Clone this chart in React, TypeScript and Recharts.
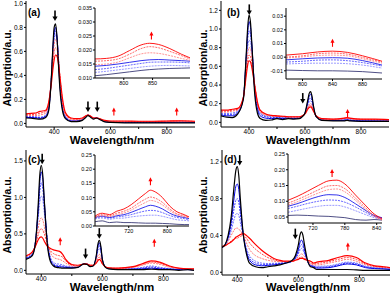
import React from "react";
import { LineChart, Line, XAxis, YAxis, ReferenceDot } from "recharts";

// ---------- panel (a) ----------
const aWl = [300, 330, 350, 370, 380, 390, 395, 400, 405, 410, 415, 420, 430, 440, 460, 480, 500, 510, 520, 530, 540, 550, 560, 580, 600, 650, 700, 750, 800, 850, 900];
const aBlack = [0.045, 0.04, 0.035, 0.05, 0.1, 0.38, 0.62, 0.8, 0.83, 0.72, 0.5, 0.3, 0.1, 0.04, 0.015, 0.015, 0.025, 0.045, 0.065, 0.05, 0.035, 0.045, 0.035, 0.012, 0.008, 0.005, 0.005, 0.005, 0.005, 0.005, 0.005];
const aBlue1 = [0.05, 0.048, 0.042, 0.058, 0.11, 0.38, 0.6, 0.76, 0.8, 0.72, 0.53, 0.33, 0.12, 0.05, 0.02, 0.02, 0.03, 0.05, 0.068, 0.055, 0.04, 0.046, 0.037, 0.015, 0.01, 0.008, 0.008, 0.008, 0.009, 0.01, 0.008];
const aBlue2 = [0.055, 0.052, 0.048, 0.062, 0.12, 0.38, 0.58, 0.73, 0.77, 0.71, 0.55, 0.35, 0.13, 0.055, 0.022, 0.022, 0.032, 0.052, 0.069, 0.056, 0.042, 0.046, 0.038, 0.016, 0.011, 0.009, 0.009, 0.009, 0.01, 0.011, 0.009];
const aBlue3 = [0.06, 0.056, 0.052, 0.068, 0.13, 0.38, 0.56, 0.7, 0.74, 0.7, 0.56, 0.37, 0.14, 0.06, 0.025, 0.024, 0.034, 0.054, 0.07, 0.057, 0.043, 0.046, 0.039, 0.017, 0.012, 0.01, 0.01, 0.01, 0.011, 0.012, 0.01];
const aRed1 = [0.065, 0.065, 0.07, 0.085, 0.15, 0.38, 0.54, 0.66, 0.7, 0.67, 0.55, 0.39, 0.16, 0.07, 0.03, 0.028, 0.037, 0.056, 0.07, 0.058, 0.044, 0.046, 0.039, 0.02, 0.015, 0.014, 0.013, 0.013, 0.015, 0.017, 0.014];
const aRed2 = [0.072, 0.075, 0.085, 0.1, 0.16, 0.36, 0.49, 0.6, 0.63, 0.62, 0.53, 0.4, 0.18, 0.08, 0.038, 0.034, 0.041, 0.058, 0.07, 0.059, 0.045, 0.046, 0.04, 0.022, 0.018, 0.017, 0.016, 0.016, 0.018, 0.02, 0.016];
const aRed3 = [0.08, 0.085, 0.1, 0.11, 0.17, 0.33, 0.44, 0.53, 0.57, 0.56, 0.5, 0.4, 0.2, 0.09, 0.045, 0.04, 0.045, 0.06, 0.07, 0.06, 0.045, 0.045, 0.04, 0.025, 0.02, 0.02, 0.018, 0.018, 0.02, 0.022, 0.018];
const aDown = [{ x: 403, y: 0.9 }, { x: 520, y: 0.14 }, { x: 553, y: 0.14 }];
const aUp = [{ x: 612, y: 0.1 }, { x: 835, y: 0.1 }];

const aInWl = [750, 770, 790, 810, 830, 845, 860, 880, 900, 915];
const aInRed1 = [0.0168, 0.017, 0.0178, 0.0198, 0.0218, 0.0224, 0.022, 0.0205, 0.0185, 0.0172];
const aInRed2 = [0.016, 0.0162, 0.0168, 0.0185, 0.0205, 0.0212, 0.0208, 0.0195, 0.018, 0.0168];
const aInRed3 = [0.0148, 0.015, 0.0157, 0.0172, 0.0186, 0.019, 0.0188, 0.018, 0.017, 0.0163];
const aInBlue1 = [0.0142, 0.0145, 0.015, 0.0156, 0.0162, 0.0165, 0.0166, 0.0164, 0.0162, 0.016];
const aInBlue2 = [0.013, 0.0134, 0.014, 0.0146, 0.0152, 0.0156, 0.0157, 0.0157, 0.0156, 0.0154];
const aInBlue3 = [0.012, 0.0124, 0.0129, 0.0134, 0.0139, 0.0142, 0.0144, 0.0145, 0.0144, 0.0143];
const aInBlack = [0.0108, 0.0112, 0.0117, 0.0122, 0.0127, 0.013, 0.0132, 0.0134, 0.0135, 0.0136];
const aInUp = [{ x: 848, y: 0.0252 }];

// ---------- panel (b) ----------
const bWl = [300, 320, 340, 360, 380, 390, 395, 400, 405, 410, 420, 430, 440, 460, 480, 500, 520, 540, 560, 580, 590, 600, 610, 615, 620, 625, 630, 640, 660, 700, 740, 750, 760, 800, 850, 900];
const bBlack = [0.07, 0.055, 0.05, 0.09, 0.25, 0.72, 1.0, 1.15, 1.08, 0.85, 0.32, 0.1, 0.04, 0.02, 0.025, 0.04, 0.03, 0.04, 0.035, 0.04, 0.06, 0.1, 0.24, 0.31, 0.33, 0.28, 0.18, 0.06, 0.02, 0.015, 0.015, 0.02, 0.015, 0.01, 0.01, 0.01];
const bBlue1 = [0.08, 0.07, 0.07, 0.1, 0.26, 0.7, 0.95, 1.08, 1.03, 0.84, 0.36, 0.14, 0.07, 0.045, 0.04, 0.045, 0.04, 0.045, 0.04, 0.045, 0.06, 0.1, 0.22, 0.28, 0.3, 0.26, 0.17, 0.06, 0.025, 0.02, 0.02, 0.025, 0.02, 0.015, 0.015, 0.015];
const bBlue2 = [0.09, 0.085, 0.085, 0.11, 0.27, 0.67, 0.88, 0.98, 0.95, 0.8, 0.38, 0.16, 0.09, 0.06, 0.052, 0.052, 0.048, 0.05, 0.045, 0.048, 0.062, 0.1, 0.2, 0.25, 0.26, 0.23, 0.16, 0.065, 0.028, 0.022, 0.025, 0.03, 0.025, 0.018, 0.018, 0.018];
const bBlue3 = [0.1, 0.095, 0.1, 0.12, 0.27, 0.63, 0.8, 0.88, 0.86, 0.75, 0.4, 0.18, 0.1, 0.07, 0.06, 0.058, 0.054, 0.053, 0.05, 0.052, 0.064, 0.098, 0.18, 0.22, 0.23, 0.21, 0.15, 0.066, 0.03, 0.025, 0.03, 0.035, 0.03, 0.022, 0.02, 0.02];
const bRed1 = [0.11, 0.11, 0.12, 0.13, 0.27, 0.59, 0.73, 0.8, 0.79, 0.7, 0.41, 0.2, 0.11, 0.078, 0.068, 0.064, 0.06, 0.057, 0.055, 0.056, 0.066, 0.095, 0.16, 0.19, 0.2, 0.18, 0.14, 0.068, 0.035, 0.03, 0.038, 0.042, 0.038, 0.028, 0.026, 0.024];
const bRed2 = [0.12, 0.12, 0.13, 0.14, 0.27, 0.54, 0.66, 0.72, 0.71, 0.64, 0.41, 0.21, 0.12, 0.085, 0.072, 0.067, 0.063, 0.059, 0.058, 0.058, 0.068, 0.092, 0.15, 0.175, 0.18, 0.165, 0.13, 0.07, 0.038, 0.033, 0.042, 0.047, 0.042, 0.032, 0.03, 0.027];
const bRed3 = [0.13, 0.13, 0.14, 0.15, 0.27, 0.5, 0.61, 0.66, 0.65, 0.59, 0.4, 0.22, 0.13, 0.09, 0.075, 0.07, 0.065, 0.06, 0.06, 0.06, 0.07, 0.09, 0.14, 0.16, 0.165, 0.15, 0.12, 0.07, 0.04, 0.035, 0.045, 0.05, 0.045, 0.035, 0.035, 0.03];
const bDown = [{ x: 401, y: 1.21 }, { x: 592, y: 0.26 }];
const bUp = [{ x: 752, y: 0.1 }];

const bInWl = [778, 800, 820, 840, 860, 880, 906];
const bInRed1 = [0.0015, 0.0025, 0.0038, 0.0044, 0.0035, 0.001, -0.003];
const bInRed2 = [0.0, 0.001, 0.0025, 0.003, 0.0022, -0.0002, -0.0036];
const bInRed3 = [-0.0007, 0.0002, 0.0012, 0.0015, 0.001, -0.0012, -0.0044];
const bInBlue1 = [-0.002, -0.0012, -0.0006, -0.0004, -0.0008, -0.0025, -0.0058];
const bInBlue2 = [-0.0036, -0.003, -0.0022, -0.002, -0.0026, -0.004, -0.0065];
const bInBlue3 = [-0.005, -0.0046, -0.0044, -0.0044, -0.0048, -0.0058, -0.008];
const bInBlack = [-0.0095, -0.0098, -0.01, -0.01, -0.0102, -0.0106, -0.0116];
const bInUp = [{ x: 840, y: 0.0105 }];

// ---------- panel (c) ----------
const cWl = [350, 370, 380, 390, 395, 400, 405, 410, 420, 430, 440, 450, 460, 470, 480, 500, 520, 540, 550, 560, 570, 580, 585, 590, 595, 600, 610, 620, 650, 700, 730, 760, 790, 820, 850, 880, 900];
const cBlack = [0.15, 0.2, 0.35, 0.9, 1.3, 1.44, 1.3, 0.95, 0.35, 0.12, 0.06, 0.04, 0.035, 0.03, 0.03, 0.03, 0.04, 0.09, 0.08, 0.05, 0.06, 0.2, 0.35, 0.41, 0.33, 0.15, 0.04, 0.02, 0.01, 0.01, 0.01, 0.015, 0.01, 0.01, 0.0, 0.01, 0.0];
const cBlue1 = [0.16, 0.21, 0.36, 0.85, 1.2, 1.35, 1.25, 0.95, 0.38, 0.14, 0.075, 0.055, 0.05, 0.045, 0.04, 0.035, 0.042, 0.09, 0.085, 0.055, 0.062, 0.19, 0.32, 0.38, 0.31, 0.15, 0.045, 0.025, 0.015, 0.015, 0.02, 0.03, 0.02, 0.015, 0.01, 0.01, 0.005];
const cBlue2 = [0.17, 0.22, 0.36, 0.8, 1.08, 1.2, 1.12, 0.88, 0.4, 0.16, 0.09, 0.07, 0.065, 0.058, 0.05, 0.042, 0.045, 0.09, 0.088, 0.06, 0.064, 0.18, 0.3, 0.34, 0.28, 0.14, 0.048, 0.028, 0.018, 0.02, 0.03, 0.045, 0.03, 0.02, 0.012, 0.012, 0.008];
const cBlue3 = [0.18, 0.23, 0.36, 0.72, 0.93, 1.02, 0.97, 0.79, 0.4, 0.18, 0.11, 0.09, 0.085, 0.075, 0.06, 0.048, 0.048, 0.09, 0.09, 0.065, 0.066, 0.16, 0.26, 0.3, 0.25, 0.13, 0.05, 0.03, 0.02, 0.025, 0.04, 0.06, 0.04, 0.025, 0.015, 0.015, 0.01];
const cRed1 = [0.19, 0.24, 0.34, 0.58, 0.68, 0.72, 0.69, 0.6, 0.38, 0.24, 0.18, 0.16, 0.15, 0.13, 0.1, 0.06, 0.055, 0.088, 0.088, 0.068, 0.068, 0.13, 0.2, 0.22, 0.19, 0.11, 0.05, 0.032, 0.025, 0.04, 0.07, 0.1, 0.08, 0.045, 0.025, 0.018, 0.015];
const cRed2 = [0.2, 0.25, 0.33, 0.49, 0.55, 0.57, 0.55, 0.5, 0.36, 0.27, 0.23, 0.21, 0.2, 0.18, 0.13, 0.07, 0.062, 0.087, 0.087, 0.07, 0.07, 0.11, 0.16, 0.18, 0.16, 0.1, 0.05, 0.034, 0.028, 0.045, 0.08, 0.115, 0.095, 0.052, 0.028, 0.02, 0.018];
const cRed3 = [0.2, 0.25, 0.32, 0.42, 0.45, 0.46, 0.44, 0.4, 0.33, 0.3, 0.28, 0.27, 0.26, 0.22, 0.15, 0.08, 0.07, 0.085, 0.085, 0.07, 0.07, 0.1, 0.13, 0.15, 0.13, 0.09, 0.05, 0.035, 0.03, 0.05, 0.09, 0.13, 0.11, 0.06, 0.03, 0.02, 0.02];
const cDown = [{ x: 403, y: 1.53 }, { x: 545, y: 0.23 }, { x: 590, y: 0.51 }];
const cUp = [{ x: 462, y: 0.4 }, { x: 770, y: 0.38 }];

const cInWl = [650, 665, 680, 695, 710, 725, 740, 755, 765, 775, 790, 805, 820, 835, 845];
const cInRed1 = [0.035, 0.045, 0.04, 0.052, 0.06, 0.075, 0.095, 0.115, 0.126, 0.12, 0.1, 0.07, 0.05, 0.04, 0.032];
const cInRed2 = [0.032, 0.04, 0.036, 0.045, 0.052, 0.063, 0.08, 0.095, 0.102, 0.098, 0.083, 0.06, 0.043, 0.036, 0.03];
const cInRed3 = [0.03, 0.036, 0.033, 0.04, 0.046, 0.056, 0.07, 0.083, 0.09, 0.087, 0.074, 0.054, 0.04, 0.033, 0.028];
const cInBlue1 = [0.03, 0.035, 0.03, 0.036, 0.04, 0.048, 0.058, 0.068, 0.073, 0.07, 0.06, 0.045, 0.035, 0.03, 0.026];
const cInBlue2 = [0.028, 0.032, 0.028, 0.032, 0.035, 0.04, 0.047, 0.053, 0.055, 0.054, 0.047, 0.037, 0.03, 0.026, 0.022];
const cInBlue3 = [0.025, 0.028, 0.024, 0.027, 0.028, 0.032, 0.035, 0.037, 0.038, 0.038, 0.034, 0.028, 0.022, 0.02, 0.018];
const cInBlack = [0.015, 0.018, 0.012, 0.014, 0.012, 0.012, 0.011, 0.01, 0.01, 0.01, 0.009, 0.008, 0.006, 0.005, 0.005];
const cInUp = [{ x: 765, y: 0.158 }];

// ---------- panel (d) ----------
const dWl = [350, 360, 370, 380, 390, 395, 400, 405, 410, 420, 430, 440, 460, 480, 500, 520, 540, 560, 580, 590, 600, 605, 610, 615, 620, 630, 640, 650, 660, 700, 730, 760, 790, 820, 850, 880, 900];
const dBlack = [0.27, 0.3, 0.4, 0.6, 0.95, 1.1, 1.15, 1.05, 0.8, 0.4, 0.2, 0.1, 0.06, 0.05, 0.06, 0.07, 0.08, 0.1, 0.13, 0.18, 0.3, 0.4, 0.44, 0.4, 0.3, 0.13, 0.06, 0.05, 0.03, 0.03, 0.03, 0.03, 0.025, 0.02, 0.02, 0.02, 0.02];
const dBlue1 = [0.27, 0.3, 0.38, 0.55, 0.82, 0.93, 0.96, 0.9, 0.72, 0.4, 0.22, 0.13, 0.08, 0.07, 0.075, 0.08, 0.09, 0.1, 0.12, 0.16, 0.25, 0.32, 0.35, 0.32, 0.25, 0.12, 0.07, 0.06, 0.045, 0.05, 0.07, 0.09, 0.08, 0.05, 0.04, 0.035, 0.03];
const dBlue2 = [0.27, 0.3, 0.37, 0.5, 0.7, 0.78, 0.8, 0.76, 0.63, 0.4, 0.24, 0.15, 0.1, 0.085, 0.085, 0.09, 0.095, 0.105, 0.12, 0.15, 0.22, 0.28, 0.3, 0.28, 0.22, 0.12, 0.075, 0.065, 0.055, 0.06, 0.08, 0.1, 0.09, 0.06, 0.045, 0.04, 0.035];
const dBlue3 = [0.27, 0.29, 0.35, 0.45, 0.58, 0.63, 0.64, 0.62, 0.54, 0.39, 0.26, 0.18, 0.12, 0.1, 0.095, 0.098, 0.1, 0.108, 0.12, 0.145, 0.2, 0.24, 0.26, 0.24, 0.2, 0.12, 0.08, 0.07, 0.065, 0.07, 0.09, 0.11, 0.1, 0.065, 0.05, 0.045, 0.04];
const dRed1 = [0.28, 0.3, 0.34, 0.4, 0.46, 0.48, 0.48, 0.47, 0.45, 0.4, 0.32, 0.25, 0.18, 0.15, 0.13, 0.12, 0.115, 0.115, 0.12, 0.135, 0.17, 0.19, 0.2, 0.19, 0.17, 0.12, 0.09, 0.08, 0.08, 0.1, 0.12, 0.14, 0.12, 0.08, 0.06, 0.05, 0.045];
const dRed2 = [0.28, 0.29, 0.31, 0.34, 0.36, 0.37, 0.37, 0.38, 0.39, 0.4, 0.37, 0.32, 0.25, 0.2, 0.16, 0.135, 0.12, 0.115, 0.118, 0.13, 0.15, 0.16, 0.165, 0.16, 0.15, 0.125, 0.1, 0.09, 0.095, 0.115, 0.14, 0.16, 0.14, 0.09, 0.065, 0.055, 0.05];
const dRed3 = [0.28, 0.29, 0.31, 0.33, 0.36, 0.38, 0.39, 0.4, 0.41, 0.42, 0.4, 0.37, 0.3, 0.24, 0.19, 0.15, 0.13, 0.12, 0.12, 0.13, 0.14, 0.15, 0.15, 0.15, 0.14, 0.13, 0.12, 0.1, 0.11, 0.13, 0.16, 0.18, 0.16, 0.1, 0.07, 0.06, 0.05];
const dDown = [{ x: 408, y: 1.22 }, { x: 590, y: 0.42 }];
const dUp = [{ x: 762, y: 0.28 }];

const dInWl = [673, 690, 710, 730, 750, 765, 780, 800, 820, 835, 850];
const dInRed1 = [0.103, 0.115, 0.132, 0.15, 0.165, 0.167, 0.155, 0.12, 0.085, 0.06, 0.045];
const dInRed2 = [0.094, 0.105, 0.12, 0.136, 0.149, 0.15, 0.14, 0.11, 0.078, 0.055, 0.042];
const dInRed3 = [0.088, 0.098, 0.112, 0.126, 0.137, 0.139, 0.13, 0.103, 0.073, 0.052, 0.04];
const dInBlue1 = [0.084, 0.092, 0.104, 0.115, 0.121, 0.12, 0.112, 0.092, 0.07, 0.055, 0.048];
const dInBlue2 = [0.077, 0.084, 0.093, 0.1, 0.104, 0.103, 0.097, 0.082, 0.064, 0.052, 0.045];
const dInBlue3 = [0.065, 0.071, 0.078, 0.084, 0.087, 0.087, 0.082, 0.07, 0.057, 0.048, 0.042];
const dInBlack = [0.055, 0.056, 0.055, 0.053, 0.052, 0.05, 0.048, 0.042, 0.04, 0.042, 0.04];
const dInUp = [{ x: 756, y: 0.19 }];

const FONT = "'Liberation Sans', Arial, sans-serif";

type Mark = { x: number; y: number };
type Curve = { values: number[]; color: string; dash?: string; w?: number };

// blues drawn first, reds next, black on top
function mainCurves(black: number[], blues: number[][], reds: number[][]): Curve[] {
  return [
    { values: blues[2], color: "#7474ff", dash: "2 1" },
    { values: blues[1], color: "#3c3cff", dash: "2 1" },
    { values: blues[0], color: "#0000e6" },
    { values: reds[0], color: "#ff7a7a", dash: "2 1" },
    { values: reds[1], color: "#ff4545", dash: "2 1" },
    { values: reds[2], color: "#ff0000", w: 1.2 },
    { values: black, color: "#000000", w: 1.2 },
  ];
}

function insetCurves(black: number[], blues: number[][], reds: number[][]): Curve[] {
  return [
    { values: black, color: "#222266", w: 0.8 },
    { values: blues[2], color: "#8080ff", dash: "2 1", w: 0.8 },
    { values: blues[1], color: "#4040ff", dash: "2 1", w: 0.8 },
    { values: blues[0], color: "#0000e6", w: 0.8 },
    { values: reds[2], color: "#ff7a7a", dash: "2 1", w: 0.8 },
    { values: reds[1], color: "#ff4545", dash: "2 1", w: 0.8 },
    { values: reds[0], color: "#ff0000", w: 0.9 },
  ];
}

function toRows(wl: number[], curves: Curve[]) {
  return wl.map((w, i) => {
    const row: Record<string, number> = { wl: w };
    curves.forEach((c, k) => {
      row["c" + k] = c.values[i];
    });
    return row;
  });
}

const DownArrow = (props: any) => {
  const { cx, cy } = props;
  return (
    <g>
      <line x1={cx} y1={cy - 5} x2={cx} y2={cy + 2} stroke="#000" strokeWidth={1.6} />
      <path d={`M${cx - 2.6},${cy + 1} L${cx + 2.6},${cy + 1} L${cx},${cy + 5.5} Z`} fill="#000" />
    </g>
  );
};

const UpArrow = (props: any) => {
  const { cx, cy } = props;
  return (
    <g>
      <line x1={cx} y1={cy + 4} x2={cx} y2={cy - 1} stroke="#ff0000" strokeWidth={1.1} />
      <path d={`M${cx - 2},${cy} L${cx + 2},${cy} L${cx},${cy - 4} Z`} fill="#ff0000" />
    </g>
  );
};

interface ChartProps {
  w: number;
  h: number;
  margin: { top: number; right: number; bottom: number; left: number };
  yWidth: number;
  xHeight: number;
  wl: number[];
  curves: Curve[];
  xDomain: [number, number];
  yDomain: [number, number];
  xTicks: number[];
  xFmt: (v: number) => string;
  yTicks: number[];
  yFmt: (v: number) => string;
  fontSize: number;
  xMargin: number;
  downs: Mark[];
  ups: Mark[];
}

function Chart(p: ChartProps) {
  const rows = toRows(p.wl, p.curves);
  const tickStyle = { fontSize: p.fontSize, fill: "#000", fontFamily: FONT };
  return (
    <LineChart width={p.w} height={p.h} data={rows} margin={p.margin}>
      <XAxis
        dataKey="wl"
        type="number"
        domain={p.xDomain}
        allowDataOverflow
        ticks={p.xTicks}
        interval={0}
        tickFormatter={p.xFmt}
        height={p.xHeight}
        stroke="#000"
        tickSize={2}
        tickMargin={p.xMargin}
        tick={tickStyle}
      />
      <XAxis xAxisId="top" orientation="top" dataKey="wl" type="number" domain={p.xDomain} allowDataOverflow height={0} tick={false} tickLine={false} stroke="#000" />
      <YAxis
        type="number"
        domain={p.yDomain}
        allowDataOverflow
        ticks={p.yTicks}
        interval={0}
        tickFormatter={p.yFmt}
        width={p.yWidth}
        stroke="#000"
        tickSize={2}
        tickMargin={1}
        tick={tickStyle}
      />
      <YAxis yAxisId="right" orientation="right" type="number" domain={p.yDomain} allowDataOverflow width={0} tick={false} tickLine={false} stroke="#000" />
      {p.curves.map((c, k) => (
        <Line
          key={k}
          type="monotone"
          dataKey={"c" + k}
          stroke={c.color}
          strokeWidth={c.w ?? 1}
          strokeDasharray={c.dash}
          dot={false}
          isAnimationActive={false}
        />
      ))}
      {p.downs.map((m, i) => (
        <ReferenceDot key={"d" + i} x={m.x} y={m.y} shape={DownArrow} />
      ))}
      {p.ups.map((m, i) => (
        <ReferenceDot key={"u" + i} x={m.x} y={m.y} shape={UpArrow} />
      ))}
    </LineChart>
  );
}

const mainX = [400, 500, 600, 700, 800];
const mainXFmt = (v: number) => (v % 200 === 0 ? String(v) : "");
const fix = (n: number) => (v: number) => v.toFixed(n);

interface PanelProps {
  left: number;
  top: number;
  tag: string;
  tagLeft: number;
  main: Omit<ChartProps, "w" | "h" | "fontSize" | "xTicks" | "xFmt" | "xMargin">;
  inset: Omit<ChartProps, "fontSize" | "xFmt" | "downs" | "margin" | "xMargin"> & { left: number; top: number };
}

function Panel({ left, top, tag, tagLeft, main, inset }: PanelProps) {
  return (
    <div style={{ position: "absolute", left, top, width: 196, height: 147 }}>
      <Chart {...main} w={196} h={147} fontSize={6.5} xTicks={mainX} xFmt={mainXFmt} xMargin={0} />
      <div style={{ position: "absolute", left: inset.left, top: inset.top }}>
        <Chart
          {...inset}
          margin={{ top: 5, right: 1, bottom: 0, left: 0 }}
          fontSize={5.5}
          xFmt={(v: number) => String(v)}
          xMargin={1}
          downs={[]}
        />
      </div>
      <div style={{ position: "absolute", left: tagLeft, top: 8, fontSize: 10, fontWeight: "bold", lineHeight: 1 }}>{tag}</div>
      <div
        style={{
          position: "absolute",
          left: 112,
          top: 141,
          transform: "translate(-50%, -50%)",
          fontSize: 11.5,
          fontWeight: "bold",
          whiteSpace: "nowrap",
          lineHeight: 1,
        }}
      >
        Wavelength/nm
      </div>
      <div
        style={{
          position: "absolute",
          left: 7,
          top: 68,
          transform: "translate(-50%, -50%) rotate(-90deg)",
          fontSize: 10.5,
          fontWeight: "bold",
          whiteSpace: "nowrap",
          lineHeight: 1,
        }}
      >
        Absorption/a.u.
      </div>
    </div>
  );
}

export default function App() {
  return (
    <div style={{ position: "absolute", left: 0, top: 0, width: 392, height: 294, background: "#fff", fontFamily: FONT, overflow: "hidden" }}>
      <Panel
        left={0}
        top={0}
        tag="(a)"
        tagLeft={28}
        main={{
          margin: { top: 1, right: 1, bottom: 0, left: 0 },
          yWidth: 26,
          xHeight: 20,
          wl: aWl,
          curves: mainCurves(aBlack, [aBlue1, aBlue2, aBlue3], [aRed1, aRed2, aRed3]),
          xDomain: [300, 900],
          yDomain: [-0.03, 1.02],
          yTicks: [0, 0.2, 0.4, 0.6, 0.8, 1.0],
          yFmt: fix(1),
          downs: aDown,
          ups: aUp,
        }}
        inset={{
          left: 77,
          top: 3,
          w: 114,
          h: 85,
          yWidth: 18,
          xHeight: 10,
          wl: aInWl,
          curves: insetCurves(aInBlack, [aInBlue1, aInBlue2, aInBlue3], [aInRed1, aInRed2, aInRed3]),
          xDomain: [750, 915],
          yDomain: [0.01, 0.035],
          xTicks: [800, 850],
          yTicks: [0.01, 0.015, 0.02, 0.025, 0.03, 0.035],
          yFmt: fix(3),
          ups: aInUp,
        }}
      />
      <Panel
        left={196}
        top={0}
        tag="(b)"
        tagLeft={31}
        main={{
          margin: { top: 1, right: 3, bottom: 0, left: 0 },
          yWidth: 25,
          xHeight: 20,
          wl: bWl,
          curves: mainCurves(bBlack, [bBlue1, bBlue2, bBlue3], [bRed1, bRed2, bRed3]),
          xDomain: [300, 900],
          yDomain: [-0.05, 1.3],
          yTicks: [0, 0.2, 0.4, 0.6, 0.8, 1.0, 1.2],
          yFmt: fix(1),
          downs: bDown,
          ups: bUp,
        }}
        inset={{
          left: 72,
          top: 3,
          w: 115,
          h: 86,
          yWidth: 18,
          xHeight: 10,
          wl: bInWl,
          curves: insetCurves(bInBlack, [bInBlue1, bInBlue2, bInBlue3], [bInRed1, bInRed2, bInRed3]),
          xDomain: [778, 906],
          yDomain: [-0.016, 0.036],
          xTicks: [800, 840, 880],
          yTicks: [-0.01, 0, 0.01, 0.02, 0.03],
          yFmt: fix(2),
          ups: bInUp,
        }}
      />
      <Panel
        left={0}
        top={147}
        tag="(c)"
        tagLeft={28}
        main={{
          margin: { top: 3, right: 2, bottom: 0, left: 0 },
          yWidth: 26,
          xHeight: 20,
          wl: cWl,
          curves: mainCurves(cBlack, [cBlue1, cBlue2, cBlue3], [cRed1, cRed2, cRed3]),
          xDomain: [350, 900],
          yDomain: [-0.05, 1.65],
          yTicks: [0, 0.5, 1.0, 1.5],
          yFmt: fix(1),
          downs: cDown,
          ups: cUp,
        }}
        inset={{
          left: 77,
          top: 3,
          w: 113,
          h: 86,
          yWidth: 18,
          xHeight: 10,
          wl: cInWl,
          curves: insetCurves(cInBlack, [cInBlue1, cInBlue2, cInBlue3], [cInRed1, cInRed2, cInRed3]),
          xDomain: [650, 845],
          yDomain: [0, 0.25],
          xTicks: [720, 800],
          yTicks: [0, 0.05, 0.1, 0.15, 0.2, 0.25],
          yFmt: fix(2),
          ups: cInUp,
        }}
      />
      <Panel
        left={196}
        top={147}
        tag="(d)"
        tagLeft={28}
        main={{
          margin: { top: 3, right: 2, bottom: 0, left: 0 },
          yWidth: 26,
          xHeight: 19,
          wl: dWl,
          curves: mainCurves(dBlack, [dBlue1, dBlue2, dBlue3], [dRed1, dRed2, dRed3]),
          xDomain: [350, 900],
          yDomain: [-0.03, 1.33],
          yTicks: [0, 0.4, 0.8, 1.2],
          yFmt: fix(1),
          downs: dDown,
          ups: dUp,
        }}
        inset={{
          left: 74,
          top: 2,
          w: 113,
          h: 84,
          yWidth: 18,
          xHeight: 10,
          wl: dInWl,
          curves: insetCurves(dInBlack, [dInBlue1, dInBlue2, dInBlue3], [dInRed1, dInRed2, dInRed3]),
          xDomain: [673, 850],
          yDomain: [0.031, 0.25],
          xTicks: [720, 780, 840],
          yTicks: [0.05, 0.1, 0.15, 0.2, 0.25],
          yFmt: fix(2),
          ups: dInUp,
        }}
      />
    </div>
  );
}
